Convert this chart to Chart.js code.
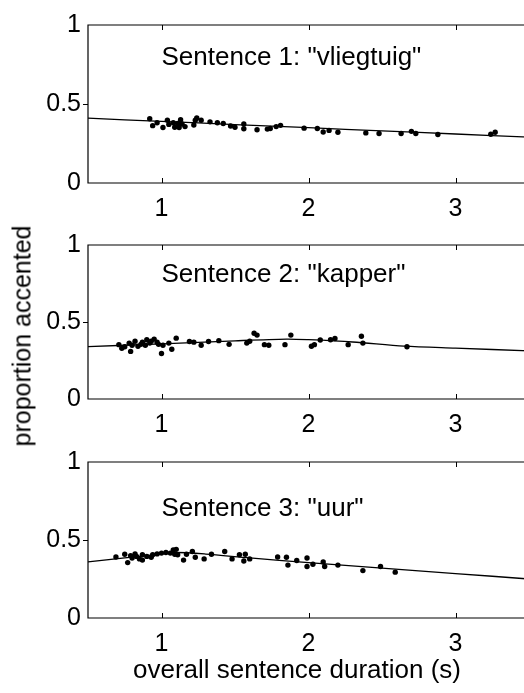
<!DOCTYPE html>
<html>
<head>
<meta charset="utf-8">
<script src="https://cdn.jsdelivr.net/npm/chart.js@4.4.1/dist/chart.umd.min.js"></script>
<style>
  html, body { margin: 0; padding: 0; background: #fff; overflow: hidden; }
  body { width: 524px; height: 693px; position: relative; }
  canvas { position: absolute; left: 0; }
  .lbl { position: absolute; font-family: "Liberation Sans", Arial, sans-serif; color: #000; white-space: nowrap; }
</style>
</head>
<body>
<canvas id="c1"></canvas>
<canvas id="c2"></canvas>
<canvas id="c3"></canvas>
<div class="lbl" id="ylab">proportion accented</div>
<div class="lbl" id="xlab">overall sentence duration (s)</div>
<script>
// duration (s) vs proportion accented, one panel per sentence
const xTicks = [1, 2, 3];
const yTicks = [0, 0.5, 1];
const titles = ['Sentence 1: "vliegtuig"', 'Sentence 2: "kapper"', 'Sentence 3: "uur"'];
const titleY = [0.745, 0.76, 0.655];

const dur1 = [0.92, 0.94, 0.97, 1.01, 1.04, 1.05, 1.08, 1.09, 1.11, 1.12, 1.13, 1.14, 1.16, 1.22, 1.23, 1.24, 1.27, 1.33, 1.38, 1.42, 1.47, 1.50, 1.56, 1.56, 1.65, 1.72, 1.74, 1.78, 1.81, 1.97, 2.06, 2.10, 2.14, 2.20, 2.39, 2.48, 2.63, 2.70, 2.73, 2.88, 3.24, 3.27];
const acc1 = [0.407, 0.363, 0.381, 0.351, 0.397, 0.371, 0.381, 0.353, 0.377, 0.351, 0.401, 0.373, 0.357, 0.367, 0.397, 0.411, 0.397, 0.387, 0.381, 0.377, 0.361, 0.353, 0.373, 0.343, 0.337, 0.341, 0.345, 0.357, 0.365, 0.347, 0.345, 0.323, 0.333, 0.321, 0.317, 0.313, 0.313, 0.327, 0.313, 0.307, 0.309, 0.321];
const fitX1 = [0.5, 1.0, 1.5, 2.0, 2.5, 3.0, 3.5];
const fit1 = [0.41, 0.39, 0.37, 0.35, 0.33, 0.31, 0.29];

const dur2 = [0.71, 0.73, 0.75, 0.78, 0.79, 0.80, 0.82, 0.84, 0.86, 0.87, 0.89, 0.90, 0.92, 0.93, 0.95, 0.97, 0.98, 1.00, 1.01, 1.05, 1.07, 1.10, 1.19, 1.22, 1.27, 1.32, 1.39, 1.46, 1.58, 1.60, 1.63, 1.65, 1.70, 1.73, 1.84, 1.88, 2.02, 2.04, 2.08, 2.15, 2.18, 2.27, 2.36, 2.37, 2.67];
const acc2 = [0.353, 0.329, 0.339, 0.363, 0.309, 0.349, 0.375, 0.343, 0.355, 0.369, 0.349, 0.385, 0.363, 0.375, 0.389, 0.369, 0.355, 0.295, 0.349, 0.363, 0.323, 0.395, 0.373, 0.369, 0.349, 0.373, 0.379, 0.355, 0.363, 0.375, 0.427, 0.415, 0.353, 0.349, 0.353, 0.415, 0.343, 0.353, 0.383, 0.385, 0.393, 0.353, 0.407, 0.363, 0.339];
const fitX2 = [0.5, 1.0, 1.5, 1.85, 2.0, 2.3, 2.65, 3.0, 3.5];
const fit2 = [0.34, 0.358, 0.378, 0.389, 0.385, 0.37, 0.343, 0.33, 0.313];

const dur3 = [0.69, 0.75, 0.77, 0.79, 0.80, 0.82, 0.83, 0.85, 0.87, 0.87, 0.90, 0.93, 0.94, 0.97, 1.00, 1.03, 1.06, 1.08, 1.09, 1.10, 1.11, 1.15, 1.17, 1.21, 1.23, 1.29, 1.34, 1.43, 1.48, 1.53, 1.56, 1.57, 1.60, 1.79, 1.85, 1.86, 1.92, 1.99, 1.99, 2.03, 2.10, 2.11, 2.20, 2.37, 2.49, 2.59];
const acc3 = [0.391, 0.409, 0.355, 0.400, 0.385, 0.411, 0.395, 0.379, 0.405, 0.371, 0.395, 0.389, 0.405, 0.411, 0.416, 0.420, 0.416, 0.436, 0.409, 0.440, 0.405, 0.371, 0.409, 0.426, 0.389, 0.379, 0.409, 0.426, 0.379, 0.405, 0.365, 0.409, 0.379, 0.391, 0.389, 0.339, 0.369, 0.385, 0.330, 0.345, 0.359, 0.330, 0.339, 0.304, 0.330, 0.294];
const fitX3 = [0.5, 0.75, 1.0, 1.1, 1.3, 1.6, 2.0, 2.5, 3.0, 3.5];
const fit3 = [0.36, 0.385, 0.41, 0.42, 0.41, 0.385, 0.355, 0.32, 0.285, 0.25];

const panels = [
  { id: 'c1', top: 17, bottom: 183, dur: dur1, acc: acc1, fitX: fitX1, fit: fit1 },
  { id: 'c2', top: 237, bottom: 399, dur: dur2, acc: acc2, fitX: fitX2, fit: fit2 },
  { id: 'c3', top: 454, bottom: 618, dur: dur3, acc: acc3, fitX: fitX3, fit: fit3 }
];

const FONT = '"Liberation Sans", Arial, sans-serif';
const PAD_TOP = 14, XAXIS_H = 40, CANVAS_W = 540;

function pairs(xs, ys) {
  return xs.map((x, i) => ({ x: x, y: ys[i] }));
}

// frame (left, bottom, top), inward x ticks, title text
const framePlugin = {
  id: 'frame',
  afterDraw(chart, args, opts) {
    const { ctx, chartArea: a, scales } = chart;
    ctx.save();
    ctx.strokeStyle = '#000';
    ctx.lineWidth = 1.2;
    ctx.beginPath();
    ctx.moveTo(a.right, a.top);
    ctx.lineTo(a.left, a.top);
    ctx.lineTo(a.left, a.bottom);
    ctx.lineTo(a.right, a.bottom);
    ctx.stroke();
    ctx.lineWidth = 1;
    ctx.beginPath();
    xTicks.forEach(v => {
      const px = Math.round(scales.x.getPixelForValue(v)) + 0.5;
      ctx.moveTo(px, a.bottom); ctx.lineTo(px, a.bottom - 5);
      ctx.moveTo(px, a.top); ctx.lineTo(px, a.top + 5);
    });
    const py = Math.round(scales.y.getPixelForValue(0.5)) + 0.5;
    ctx.moveTo(a.left, py); ctx.lineTo(a.left - 5, py);
    ctx.stroke();
    ctx.fillStyle = '#000';
    ctx.font = '26px ' + FONT;
    ctx.textAlign = 'left';
    ctx.textBaseline = 'alphabetic';
    ctx.fillText(opts.text, scales.x.getPixelForValue(1.0), scales.y.getPixelForValue(opts.ty));
    ctx.restore();
  }
};

panels.forEach((p, i) => {
  const canvas = document.getElementById(p.id);
  const h = (p.bottom - p.top) + PAD_TOP + XAXIS_H;
  canvas.width = CANVAS_W;
  canvas.height = h;
  canvas.style.top = (p.top - PAD_TOP) + 'px';

  new Chart(canvas.getContext('2d'), {
    type: 'scatter',
    data: {
      datasets: [{
        type: 'line',
        data: pairs(p.fitX, p.fit),
        borderColor: '#000',
        borderWidth: 1.3,
        pointRadius: 0,
        tension: 0.3,
        fill: false
      }, {
        data: pairs(p.dur, p.acc),
        pointRadius: 2.7,
        pointBackgroundColor: '#000',
        pointBorderWidth: 0,
        pointStyle: 'circle'
      }]
    },
    options: {
      responsive: false,
      animation: false,
      devicePixelRatio: 1,
      layout: { padding: { top: PAD_TOP, right: CANVAS_W - 529, left: 0, bottom: 0 } },
      plugins: {
        legend: { display: false },
        tooltip: { enabled: false },
        frame: { text: titles[i], ty: titleY[i] }
      },
      scales: {
        x: {
          type: 'linear',
          min: 0.5,
          max: 3.5,
          afterBuildTicks: s => { s.ticks = xTicks.map(v => ({ value: v })); },
          afterFit: s => { s.height = XAXIS_H; },
          grid: { display: false, drawTicks: false },
          border: { display: false },
          ticks: {
            padding: 11,
            color: '#000',
            font: { family: FONT, size: 25 },
            maxRotation: 0,
            callback: v => String(v)
          }
        },
        y: {
          type: 'linear',
          min: 0,
          max: 1,
          afterBuildTicks: s => { s.ticks = yTicks.map(v => ({ value: v })); },
          afterFit: s => { s.width = 88; },
          grid: { display: false, drawTicks: false },
          border: { display: false },
          ticks: {
            padding: 7,
            color: '#000',
            font: { family: FONT, size: 25 },
            callback: v => String(v)
          }
        }
      }
    },
    plugins: [framePlugin]
  });
});

const ylab = document.getElementById('ylab');
ylab.style.fontSize = '25px';
ylab.style.left = '22px';
ylab.style.top = '336px';
ylab.style.transform = 'translate(-50%, -50%) rotate(-90deg)';

const xlab = document.getElementById('xlab');
xlab.style.fontSize = '26px';
xlab.style.left = '297px';
xlab.style.top = '669px';
xlab.style.transform = 'translate(-50%, -50%)';
</script>
</body>
</html>
